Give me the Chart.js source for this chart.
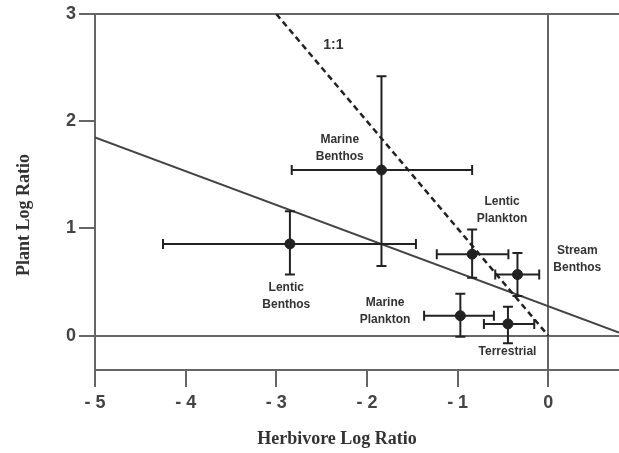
<!DOCTYPE html>
<html>
<head>
<meta charset="utf-8">
<script src="https://cdn.jsdelivr.net/npm/chart.js@4/dist/chart.umd.min.js"></script>
<style>
  body { margin: 0; background: #fff; }
  #wrap { width: 619px; height: 453px; }
</style>
</head>
<body>
<div id="wrap"><canvas id="plot" width="619" height="453"></canvas></div>
<script>
// Herbivore vs plant log ratios by system
const groups = ['Lentic Benthos', 'Marine Benthos', 'Lentic Plankton', 'Stream Benthos', 'Marine Plankton', 'Terrestrial'];
const herbivore = [-2.85, -1.84, -0.84, -0.34, -0.97, -0.445];
const herbivoreLow = [-4.25, -2.83, -1.23, -0.585, -1.37, -0.71];
const herbivoreHigh = [-1.46, -0.84, -0.44, -0.10, -0.60, -0.155];
const plant = [0.856, 1.545, 0.76, 0.57, 0.186, 0.11];
const plantLow = [0.57, 0.65, 0.54, 0.37, -0.01, -0.07];
const plantHigh = [1.16, 2.42, 0.99, 0.77, 0.39, 0.27];

// fitted line and 1:1 line end points
const fitX = [-5, 0.78];
const fitY = [1.85, 0.03];
const oneX = [-3, 0];
const oneY = [3, 0];

// axis ticks
const xTicks = [-5, -4, -3, -2, -1, 0];
const xTickLabels = ['- 5', '- 4', '- 3', '- 2', '- 1', '0'];
const yTicks = [0, 1, 2, 3];
const yTickLabels = ['0', '1', '2', '3'];

// group labels (text lines, anchored in data units)
const labelLines = [['Lentic', 'Benthos'], ['Marine', 'Benthos'], ['Lentic', 'Plankton'], ['Stream', 'Benthos'], ['Marine', 'Plankton'], ['Terrestrial'], ['1:1']];
const labelX = [-2.89, -2.30, -0.51, 0.32, -1.80, -0.45, -2.37];
const labelY = [0.367, 1.744, 1.167, 0.712, 0.233, -0.149, 2.71];

const AXIS = '#666';
const INK = '#222';

const errorBars = {
    id: 'errorBars',
    afterDatasetsDraw(chart) {
        const { ctx, scales: { x, y } } = chart;
        const cap = 5;
        ctx.save();
        ctx.strokeStyle = INK;
        ctx.lineWidth = 2;
        groups.forEach((g, i) => {
            const px = x.getPixelForValue(herbivore[i]);
            const py = y.getPixelForValue(plant[i]);
            const x0 = x.getPixelForValue(herbivoreLow[i]);
            const x1 = x.getPixelForValue(herbivoreHigh[i]);
            const y0 = y.getPixelForValue(plantLow[i]);
            const y1 = y.getPixelForValue(plantHigh[i]);
            ctx.beginPath();
            ctx.moveTo(x0, py); ctx.lineTo(x1, py);
            ctx.moveTo(x0, py - cap); ctx.lineTo(x0, py + cap);
            ctx.moveTo(x1, py - cap); ctx.lineTo(x1, py + cap);
            ctx.moveTo(px, y0); ctx.lineTo(px, y1);
            ctx.moveTo(px - cap, y0); ctx.lineTo(px + cap, y0);
            ctx.moveTo(px - cap, y1); ctx.lineTo(px + cap, y1);
            ctx.stroke();
        });
        ctx.restore();
    }
};

const groupLabels = {
    id: 'groupLabels',
    afterDatasetsDraw(chart) {
        const { ctx, scales: { x, y } } = chart;
        ctx.save();
        ctx.fillStyle = '#333';
        ctx.textAlign = 'center';
        ctx.textBaseline = 'middle';
        labelLines.forEach((lines, i) => {
            ctx.font = i === labelLines.length - 1 ? 'bold 14px "Liberation Sans", Arial' : 'bold 12px "Liberation Sans", Arial';
            const cx = x.getPixelForValue(labelX[i]);
            const cy = y.getPixelForValue(labelY[i]);
            const lh = 17;
            lines.forEach((t, k) => {
                ctx.fillText(t, cx, cy + (k - (lines.length - 1) / 2) * lh);
            });
        });
        ctx.restore();
    }
};

const axisTitles = {
    id: 'axisTitles',
    afterDraw(chart) {
        const { ctx } = chart;
        ctx.save();
        ctx.fillStyle = '#333';
        ctx.font = 'bold 18px "Liberation Serif", "Times New Roman", serif';
        ctx.textAlign = 'center';
        ctx.textBaseline = 'middle';
        ctx.fillText('Herbivore Log Ratio', 337, 439);
        ctx.translate(24, 215);
        ctx.rotate(-Math.PI / 2);
        ctx.fillText('Plant Log Ratio', 0, 0);
        ctx.restore();
    }
};

const tickFont = { family: '"Liberation Sans", Arial', size: 18, weight: 'bold' };

new Chart(document.getElementById('plot'), {
    type: 'scatter',
    data: {
        datasets: [
            {
                label: 'Groups',
                data: herbivore.map((v, i) => ({ x: v, y: plant[i] })),
                backgroundColor: INK,
                borderColor: INK,
                pointRadius: 5,
                order: 0
            },
            {
                label: 'Fit',
                type: 'line',
                data: fitX.map((v, i) => ({ x: v, y: fitY[i] })),
                borderColor: '#444',
                borderWidth: 2,
                pointRadius: 0,
                fill: false,
                order: 2
            },
            {
                label: '1:1',
                type: 'line',
                data: oneX.map((v, i) => ({ x: v, y: oneY[i] })),
                borderColor: INK,
                borderWidth: 2.5,
                borderDash: [6, 4],
                pointRadius: 0,
                fill: false,
                order: 1
            }
        ]
    },
    options: {
        responsive: false,
        animation: false,
        layout: { autoPadding: false, padding: { top: 14, right: 0, left: 0, bottom: 0 } },
        plugins: {
            legend: { display: false },
            tooltip: { enabled: false }
        },
        scales: {
            x: {
                type: 'linear',
                min: -5,
                max: 0.78,
                afterBuildTicks: s => { s.ticks = xTicks.map(v => ({ value: v })); },
                afterFit: s => { s.height = 83; s.paddingLeft = 0; s.paddingRight = 0; },
                ticks: {
                    callback: v => xTickLabels[xTicks.indexOf(v)],
                    font: tickFont,
                    color: '#444',
                    padding: 5,
                    maxRotation: 0,
                    autoSkip: false
                },
                grid: {
                    color: c => (c.tick && c.tick.value === 0 ? AXIS : 'rgba(0,0,0,0)'),
                    lineWidth: 2,
                    tickColor: AXIS,
                    tickLength: 17
                },
                border: { display: true, color: AXIS, width: 2 }
            },
            y: {
                type: 'linear',
                min: -0.32,
                max: 3,
                afterBuildTicks: s => { s.ticks = yTicks.map(v => ({ value: v })); },
                afterFit: s => { s.width = 95; },
                ticks: {
                    callback: v => yTickLabels[yTicks.indexOf(v)],
                    font: tickFont,
                    color: '#444',
                    padding: 3,
                    autoSkip: false
                },
                grid: {
                    color: c => (c.tick && (c.tick.value === 0 || c.tick.value === 3) ? AXIS : 'rgba(0,0,0,0)'),
                    lineWidth: 2,
                    tickColor: AXIS,
                    tickLength: 16
                },
                border: { display: true, color: AXIS, width: 2 }
            }
        }
    },
    plugins: [errorBars, groupLabels, axisTitles]
});
</script>
</body>
</html>
